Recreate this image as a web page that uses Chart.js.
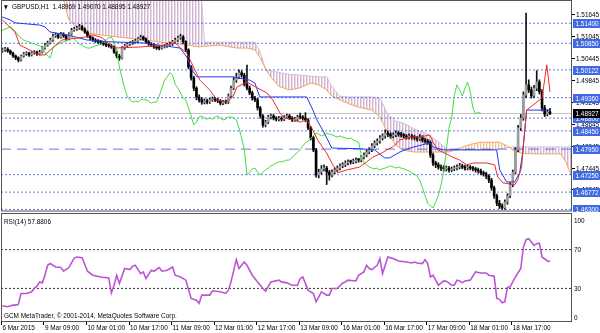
<!DOCTYPE html>
<html><head><meta charset="utf-8">
<script src="https://cdn.jsdelivr.net/npm/chart.js@4.4.1/dist/chart.umd.min.js"></script>
<style>
html,body{margin:0;padding:0;background:#fff;}
#wrap{position:relative;width:600px;height:333px;overflow:hidden;background:#fff;}
canvas{position:absolute;left:0;}
#main{top:0;}
#rsi{top:212px;}
</style></head><body>
<div id="wrap"><canvas id="main" width="600" height="212"></canvas><canvas id="rsi" width="600" height="121"></canvas></div>
<script>
// ---------------- DATA ----------------
const symbol = 'GBPUSD,H1';
const rsiName = 'RSI(14)';
const copyright = 'GCM MetaTrader, \u00A9 2001-2014, MetaQuotes Software Corp.';
const xTickBars = [0,16,32,48,64,80,96,112,128,144,160,176,192];
const xTickLabels = ['6 Mar 2015','9 Mar 09:00','10 Mar 01:00','10 Mar 17:00','11 Mar 09:00','12 Mar 01:00','12 Mar 17:00','13 Mar 09:00','16 Mar 01:00','16 Mar 17:00','17 Mar 09:00','18 Mar 01:00','18 Mar 17:00'];
const priceTicks = [1.51645,1.51045,1.50445,1.49845,1.49245,1.48645,1.48045,1.47445,1.46845];
const levels = [1.51400,1.50850,1.50122,1.49360,1.48800,1.48450,1.47950,1.47250,1.46772,1.46300];
const dashedLevels = [1.47950];
const rsiTicks = [100,70,30,0];
const rsiLevels = [70,30];

const opens = [
1.5064,1.5067,1.5069,1.5064,1.5058,1.5050,1.5045,1.5039,1.5050,1.5056,
1.5058,1.5053,1.5058,1.5061,1.5056,1.5061,1.5072,1.5080,1.5086,1.5094,
1.5105,1.5108,1.5102,1.5110,1.5105,1.5097,1.5110,1.5121,1.5124,1.5127,
1.5130,1.5124,1.5116,1.5105,1.5100,1.5094,1.5091,1.5089,1.5086,1.5083,
1.5080,1.5078,1.5075,1.5061,1.5050,1.5045,1.5072,1.5078,1.5083,1.5086,
1.5089,1.5091,1.5097,1.5102,1.5097,1.5089,1.5083,1.5080,1.5075,1.5072,
1.5072,1.5075,1.5078,1.5080,1.5083,1.5089,1.5094,1.5100,1.5102,1.5089,
1.5067,1.5020,1.4990,1.4962,1.4938,1.4930,1.4924,1.4927,1.4924,1.4930,
1.4932,1.4930,1.4927,1.4921,1.4924,1.4924,1.4941,1.4962,1.4984,1.4993,
1.5004,1.4998,1.4973,1.4962,1.4949,1.4935,1.4930,1.4908,1.4886,1.4861,
1.4869,1.4883,1.4886,1.4880,1.4877,1.4880,1.4877,1.4883,1.4886,1.4880,
1.4875,1.4877,1.4883,1.4883,1.4880,1.4875,1.4853,1.4826,1.4793,1.4724,
1.4732,1.4741,1.4743,1.4732,1.4724,1.4732,1.4738,1.4743,1.4749,1.4752,
1.4757,1.4760,1.4760,1.4762,1.4765,1.4765,1.4773,1.4779,1.4787,1.4793,
1.4804,1.4812,1.4817,1.4826,1.4831,1.4839,1.4836,1.4831,1.4834,1.4839,
1.4836,1.4834,1.4831,1.4828,1.4831,1.4828,1.4826,1.4823,1.4826,1.4820,
1.4817,1.4814,1.4779,1.4757,1.4752,1.4746,1.4743,1.4741,1.4743,1.4738,
1.4741,1.4743,1.4746,1.4749,1.4746,1.4743,1.4746,1.4743,1.4741,1.4738,
1.4735,1.4730,1.4727,1.4721,1.4710,1.4689,1.4667,1.4647,1.4639,1.4634,
1.4650,1.4667,1.4697,1.4732,1.4793,1.4853,1.4880,1.4943,1.4971,1.4957,
1.4941,1.4962,1.4979,1.4952,1.4908,1.4891,1.48969];
const highs = [
1.5072,1.5074,1.5073,1.5067,1.5061,1.5053,1.5048,1.5053,1.5060,1.5062,
1.5061,1.5062,1.5065,1.5064,1.5066,1.5076,1.5085,1.5091,1.5099,1.5110,
1.5113,1.5112,1.5115,1.5114,1.5108,1.5114,1.5126,1.5129,1.5132,1.5137,
1.5134,1.5127,1.5119,1.5108,1.5103,1.5098,1.5095,1.5093,1.5090,1.5087,
1.5084,1.5082,1.5078,1.5064,1.5055,1.5076,1.5082,1.5087,1.5090,1.5093,
1.5096,1.5101,1.5107,1.5105,1.5100,1.5092,1.5087,1.5084,1.5079,1.5077,
1.5079,1.5082,1.5085,1.5088,1.5093,1.5099,1.5105,1.5110,1.5106,1.5092,
1.5070,1.5024,1.4995,1.4966,1.4944,1.4936,1.4933,1.4932,1.4935,1.4938,
1.4937,1.4934,1.4931,1.4929,1.4930,1.4946,1.4968,1.4992,1.5003,1.5012,
1.5010,1.5003,1.5025,1.4968,1.4954,1.4940,1.4934,1.4912,1.4890,1.4874,
1.4888,1.4891,1.4890,1.4884,1.4885,1.4884,1.4887,1.4891,1.4890,1.4884,
1.4882,1.4888,1.4894,1.4887,1.4895,1.4879,1.4857,1.4830,1.4797,1.4740,
1.4750,1.4752,1.4748,1.4737,1.4738,1.4744,1.4749,1.4755,1.4758,1.4763,
1.4766,1.4765,1.4768,1.4771,1.4770,1.4778,1.4785,1.4793,1.4799,1.4810,
1.4818,1.4823,1.4832,1.4837,1.4848,1.4845,1.4840,1.4840,1.4845,1.4843,
1.4841,1.4838,1.4835,1.4837,1.4836,1.4833,1.4830,1.4835,1.4832,1.4825,
1.4822,1.4818,1.4784,1.4762,1.4758,1.4752,1.4750,1.4749,1.4748,1.4746,
1.4749,1.4752,1.4756,1.4754,1.4751,1.4752,1.4750,1.4748,1.4745,1.4743,
1.4740,1.4735,1.4732,1.4725,1.4715,1.4694,1.4672,1.4655,1.4645,1.4656,
1.4673,1.4703,1.4738,1.4799,1.4860,1.4890,1.4952,1.5168,1.4985,1.4965,
1.4970,1.5010,1.4985,1.4958,1.4915,1.4903,1.49070];
const lows = [
1.5060,1.5063,1.5060,1.5054,1.5046,1.5040,1.5034,1.5036,1.5047,1.5052,
1.5049,1.5050,1.5055,1.5052,1.5053,1.5058,1.5069,1.5077,1.5083,1.5090,
1.5101,1.5098,1.5099,1.5101,1.5093,1.5094,1.5107,1.5118,1.5120,1.5123,
1.5120,1.5112,1.5101,1.5095,1.5090,1.5087,1.5085,1.5082,1.5079,1.5076,
1.5074,1.5071,1.5057,1.5045,1.5038,1.5042,1.5068,1.5074,1.5079,1.5082,
1.5085,1.5088,1.5094,1.5093,1.5085,1.5079,1.5076,1.5071,1.5068,1.5067,
1.5069,1.5072,1.5074,1.5077,1.5079,1.5086,1.5090,1.5096,1.5085,1.5062,
1.5015,1.4984,1.4955,1.4930,1.4924,1.4918,1.4919,1.4919,1.4920,1.4926,
1.4925,1.4922,1.4916,1.4917,1.4919,1.4920,1.4937,1.4958,1.4978,1.4988,
1.4992,1.4968,1.4957,1.4944,1.4929,1.4925,1.4902,1.4880,1.4855,1.4856,
1.4865,1.4878,1.4875,1.4872,1.4872,1.4872,1.4873,1.4879,1.4876,1.4870,
1.4871,1.4873,1.4878,1.4875,1.4870,1.4848,1.4820,1.4788,1.4718,1.4716,
1.4726,1.4735,1.4698,1.4710,1.4719,1.4727,1.4733,1.4738,1.4744,1.4747,
1.4752,1.4754,1.4755,1.4757,1.4759,1.4760,1.4768,1.4774,1.4782,1.4788,
1.4799,1.4806,1.4811,1.4820,1.4825,1.4829,1.4825,1.4826,1.4829,1.4830,
1.4828,1.4826,1.4822,1.4823,1.4822,1.4820,1.4817,1.4818,1.4814,1.4811,
1.4808,1.4772,1.4750,1.4744,1.4740,1.4736,1.4734,1.4735,1.4732,1.4733,
1.4736,1.4738,1.4741,1.4741,1.4737,1.4738,1.4738,1.4735,1.4732,1.4729,
1.4724,1.4721,1.4714,1.4703,1.4682,1.4660,1.4640,1.4632,1.4630,1.4630,
1.4644,1.4662,1.4692,1.4727,1.4788,1.4846,1.4874,1.4936,1.4950,1.4935,
1.4936,1.4955,1.4946,1.4900,1.4884,1.4886,1.48895];
const closes = [
1.5067,1.5069,1.5064,1.5058,1.5050,1.5045,1.5039,1.5050,1.5056,1.5058,
1.5053,1.5058,1.5061,1.5056,1.5061,1.5072,1.5080,1.5086,1.5094,1.5105,
1.5108,1.5102,1.5110,1.5105,1.5097,1.5110,1.5121,1.5124,1.5127,1.5130,
1.5124,1.5116,1.5105,1.5100,1.5094,1.5091,1.5089,1.5086,1.5083,1.5080,
1.5078,1.5075,1.5061,1.5050,1.5045,1.5072,1.5078,1.5083,1.5086,1.5089,
1.5091,1.5097,1.5102,1.5097,1.5089,1.5083,1.5080,1.5075,1.5072,1.5072,
1.5075,1.5078,1.5080,1.5083,1.5089,1.5094,1.5100,1.5102,1.5089,1.5067,
1.5020,1.4990,1.4962,1.4938,1.4930,1.4924,1.4927,1.4924,1.4930,1.4932,
1.4930,1.4927,1.4921,1.4924,1.4924,1.4941,1.4962,1.4984,1.4993,1.5004,
1.4998,1.4973,1.4962,1.4949,1.4935,1.4930,1.4908,1.4886,1.4861,1.4869,
1.4883,1.4886,1.4880,1.4877,1.4880,1.4877,1.4883,1.4886,1.4880,1.4875,
1.4877,1.4883,1.4883,1.4880,1.4875,1.4853,1.4826,1.4793,1.4724,1.4732,
1.4741,1.4743,1.4732,1.4724,1.4732,1.4738,1.4743,1.4749,1.4752,1.4757,
1.4760,1.4760,1.4762,1.4765,1.4765,1.4773,1.4779,1.4787,1.4793,1.4804,
1.4812,1.4817,1.4826,1.4831,1.4839,1.4836,1.4831,1.4834,1.4839,1.4836,
1.4834,1.4831,1.4828,1.4831,1.4828,1.4826,1.4823,1.4826,1.4820,1.4817,
1.4814,1.4779,1.4757,1.4752,1.4746,1.4743,1.4741,1.4743,1.4738,1.4741,
1.4743,1.4746,1.4749,1.4746,1.4743,1.4746,1.4743,1.4741,1.4738,1.4735,
1.4730,1.4727,1.4721,1.4710,1.4689,1.4667,1.4647,1.4639,1.4634,1.4650,
1.4667,1.4697,1.4732,1.4793,1.4853,1.4880,1.4943,1.4971,1.4957,1.4941,
1.4962,1.4979,1.4952,1.4908,1.4891,1.48969,1.48927];

const tenkanBars = [-1,0,4.7,6.6,14,16,20,22.4,31,34,37,38.6,40.5,42.3,52,61,65,67,69.4,71.7,74.3,78,80.7,84.4,86.7,88.2,92,93.8,99.5,101.7,104.4,106.2,109.2,112,114.5,116.8,118.6,122,124.3,126.2,129.5,134.4,137,139.3,142.7,144.6,146.8,149.5,153.2,157,160.8,162,163.8,165.6,169.4,172,174.7,177,182,185.2,186.3,188.2,192.7,193.8,195.3,197.2,203,204.8,206];
const tenkanVals = [1.5152,1.5149,1.5116,1.5080,1.5053,1.5053,1.5080,1.5094,1.5102,1.5108,1.5102,1.5094,1.5080,1.5072,1.5075,1.5080,1.5086,1.5072,1.5058,1.5023,1.4984,1.4957,1.4930,1.4924,1.4938,1.4965,1.4979,1.4971,1.4949,1.4930,1.4894,1.4880,1.4875,1.4869,1.4875,1.4847,1.4820,1.4784,1.4752,1.4730,1.4738,1.4746,1.4760,1.4773,1.4784,1.4793,1.4801,1.4820,1.4828,1.4828,1.4834,1.4814,1.4793,1.4787,1.4773,1.4765,1.4752,1.4757,1.4757,1.4752,1.4719,1.4703,1.4697,1.4710,1.4746,1.4902,1.4935,1.5026,1.4952];
const kijunBars = [-1,0,2.9,4.7,14,16,17.9,24.3,31.8,40.5,52.9,64,66.8,69.4,71.3,73.2,86.7,93,95,96.8,114.5,116.8,118.3,120.5,122.4,123.9,134.4,140,143.8,145.7,149.5,153.2,160.8,162,165.6,185.9,187.1,189.7,192.7,194.6,195.7,197.2,206];
const kijunVals = [1.5160,1.5157,1.5149,1.5141,1.5135,1.5130,1.5116,1.5108,1.5094,1.5089,1.5086,1.5075,1.5072,1.5047,1.5012,1.4993,1.4993,1.4984,1.4976,1.4938,1.4938,1.4902,1.4875,1.4847,1.4820,1.4798,1.4796,1.4793,1.4771,1.4771,1.4787,1.4798,1.4812,1.4801,1.4793,1.4793,1.4738,1.4705,1.4705,1.4730,1.4785,1.4902,1.4902];
const kumoBars = [18,22,25,28,32,40,50,60,70,74,75,76,82,88,92,95,97,99,101,104,108,112,116,119,122,124,127,130,134,139,142,145,148,151,155,160,164,168,172,176,180,184,187,190,193,196,200,205,210,212,214];
const spanA = [1.5260,1.5231,1.5149,1.5127,1.5113,1.5105,1.5097,1.5088,1.5080,1.5075,1.5076,1.5077,1.5080,1.5072,1.5072,1.5067,1.5045,1.5015,1.4992,1.4967,1.4957,1.4963,1.4976,1.4971,1.4957,1.4940,1.4930,1.4920,1.4910,1.4902,1.4883,1.4840,1.4805,1.4792,1.4787,1.4787,1.4787,1.4787,1.4798,1.4808,1.4814,1.4814,1.4814,1.4803,1.4788,1.4783,1.4782,1.4782,1.4782,1.4760,1.4722];
const spanB = [1.5240,1.5240,1.5240,1.5240,1.5240,1.5240,1.5240,1.5240,1.5240,1.5240,1.5200,1.5088,1.5088,1.5088,1.5088,1.5088,1.5060,1.5012,1.5010,1.5005,1.5000,1.4998,1.4995,1.4993,1.4993,1.4965,1.4940,1.4938,1.4938,1.4938,1.4935,1.4890,1.4872,1.4866,1.4850,1.4836,1.4815,1.4790,1.4793,1.4793,1.4793,1.4793,1.4795,1.4800,1.4801,1.4801,1.4801,1.4801,1.4801,1.4801,1.4801];
const chikouShift = 26;

const rsiBars = [0,2,4,5,6,7,9,11,12,13,14,15,16,17,18,20,22,23,25,27,28,30,32,34,37,40,41,42,43,44,46,48,49,50,52,53,54,56,57,59,60,62,64,65,67,69,71,73,74,75,78,79,82,84,85,86,88,89,91,92,94,96,98,99,101,104,105,107,109,111,112,113,115,117,118,120,122,123,124,126,128,129,130,133,134,136,137,138,139,141,142,143,145,147,149,152,154,155,156,158,159,160,161,162,164,166,167,169,170,171,172,173,174,176,178,180,182,183,185,186,187,188,189,190,191,193,195,196,197,198,200,201,202,203,205,206];
const rsiVals = [12.1,11.1,12.8,12.8,13.5,24.8,24.8,26.5,30.0,32.3,36.7,35.7,43.6,53.8,55.6,52.1,51.5,47.7,51.5,61.3,62.4,61.7,47.7,43.6,41.8,40.8,25.4,33.3,43.6,35.1,50.5,49.4,52.8,53.8,45.3,47.0,40.2,48.7,47.7,51.5,47.7,48.7,52.1,43.6,41.8,38.5,19.7,17.9,14.6,23.1,23.1,27.5,26.5,24.8,28.2,36.7,59.7,50.5,57.2,53.8,43.6,36.7,29.9,27.2,36.7,38.5,36.7,35.7,33.3,33.3,40.0,41.8,28.2,24.8,16.2,26.5,23.1,23.1,29.9,29.9,35.7,36.7,38.5,37.7,43.6,47.0,53.8,50.5,49.4,53.8,60.7,45.3,62.4,60.7,58.3,57.2,56.2,57.2,56.2,55.6,59.7,55.6,41.8,43.6,33.3,37.7,37.4,33.3,33.3,38.5,37.7,35.7,37.7,38.5,47.0,45.9,45.9,43.6,42.6,19.7,18.7,15.2,16.2,31.0,31.6,41.8,50.5,72.6,80.2,81.2,74.4,76.1,76.7,62.4,58.3,57.8806];

// ---------------- RENDER ----------------
const X_MIN = -0.53, X_MAX = 213.9;
const SX = 0.8;
const FONT = '8px "Liberation Sans", Arial, sans-serif';
function drawText(ctx, s, x, y, color, font) {
  ctx.save();
  ctx.font = font || FONT; ctx.fillStyle = color; ctx.textBaseline = 'middle'; ctx.textAlign = 'left';
  ctx.translate(x, y); ctx.scale(SX, 1); ctx.fillText(s, 0, 0);
  ctx.restore();
}
function makeHatch(color, alpha2) {
  const c = document.createElement('canvas'); c.width = 3; c.height = 2;
  const g = c.getContext('2d'); g.fillStyle = color; g.fillRect(0, 0, 1, 2);
  g.globalAlpha = alpha2; g.fillRect(1, 0, 1, 2);
  return g.createPattern(c, 'repeat');
}
const hatchThistle = makeHatch('#D2B4D2', 0.45);
const hatchSandy = makeHatch('#F7BE8E', 0.35);

const n = closes.length;
const wickData = closes.map((c, i) => ({x: i, y: [lows[i], highs[i]]}));
const bodyData = closes.map((c, i) => ({x: i, y: [Math.min(opens[i], c), Math.max(opens[i], c)]}));
const bodyColors = closes.map((c, i) => c > opens[i] ? '#9c9c9c' : '#000000');
const pts = (xs, ys) => xs.map((x, i) => ({x, y: ys[i]}));
const lastClose = closes[n - 1];

const lineBase = {type: 'line', pointRadius: 0, borderWidth: 1, fill: false, tension: 0};
const mainDatasets = [
  Object.assign({}, lineBase, {data: pts(kumoBars, spanB), borderColor: '#D8BFD8', order: 20}),
  Object.assign({}, lineBase, {data: pts(kumoBars, spanA), borderColor: '#F4A460', order: 19,
    fill: {target: 0, above: hatchSandy, below: hatchThistle}}),
];
levels.forEach(L => mainDatasets.push(Object.assign({}, lineBase, {
  data: [{x: X_MIN, y: L}, {x: X_MAX, y: L}], borderColor: 'rgba(65,105,225,0.85)',
  borderDash: dashedLevels.includes(L) ? [10, 6] : [2, 2], order: 15})));
mainDatasets.push(Object.assign({}, lineBase, {data: [{x: X_MIN, y: lastClose}, {x: X_MAX, y: lastClose}], borderColor: '#c4c4c4', order: 14}));
mainDatasets.push({type: 'bar', data: wickData, backgroundColor: '#111', barThickness: 1, grouped: false, order: 6});
mainDatasets.push({type: 'bar', data: bodyData, backgroundColor: bodyColors, barThickness: 2, grouped: false, minBarLength: 1, order: 5});
mainDatasets.push(Object.assign({}, lineBase, {data: closes.map((c, i) => ({x: i - chikouShift, y: c})), borderColor: '#44DD44', order: 3}));
mainDatasets.push(Object.assign({}, lineBase, {data: pts(kijunBars, kijunVals), borderColor: '#2a36ee', order: 2}));
mainDatasets.push(Object.assign({}, lineBase, {data: pts(tenkanBars, tenkanVals), borderColor: '#f02a2a', order: 1}));

const whiteBg = {id: 'whiteBg', beforeDraw(chart) { const c = chart.ctx; c.save(); c.fillStyle = '#fff'; c.fillRect(0, 0, chart.width, chart.height); c.restore(); }};

const mainDeco = {
  id: 'mainDeco',
  afterDraw(chart) {
    const ctx = chart.ctx, a = chart.chartArea, y = chart.scales.y;
    ctx.save();
    ctx.strokeStyle = '#555'; ctx.lineWidth = 1;
    ctx.strokeRect(a.left + 0.5, a.top - 0.5, a.right - a.left, a.bottom - a.top + 1.5);
    priceTicks.forEach(v => {
      const py = Math.round(y.getPixelForValue(v)) + 0.5;
      ctx.beginPath(); ctx.moveTo(a.right + 1, py); ctx.lineTo(a.right + 4, py); ctx.strokeStyle = '#000'; ctx.stroke();
      drawText(ctx, v.toFixed(5), a.right + 5, py, '#000');
    });
    levels.forEach(v => {
      const py = y.getPixelForValue(v);
      ctx.fillStyle = '#4169E1'; ctx.fillRect(a.right + 2, Math.round(py) - 4, 27, 9);
      drawText(ctx, v.toFixed(5), a.right + 4.5, Math.round(py) + 0.5, '#fff');
    });
    const pb = Math.round(y.getPixelForValue(lastClose));
    ctx.fillStyle = '#000'; ctx.fillRect(a.right + 2, pb - 4, 27, 9);
    drawText(ctx, lastClose.toFixed(5), a.right + 4.5, pb + 0.5, '#fff');
    drawText(ctx, '\u25BC', 4, 7, '#000', '6px "DejaVu Sans", sans-serif');
    const title = symbol + '  ' + [opens[n-1], highs[n-1], lows[n-1], closes[n-1]].map(v => v.toFixed(5)).join(' ');
    drawText(ctx, title, 12, 7, '#000');
    ctx.restore();
  }
};

new Chart(document.getElementById('main'), {
  type: 'bar',
  data: {datasets: mainDatasets},
  options: {
    responsive: false, animation: false, devicePixelRatio: 1, events: [],
    layout: {padding: {left: 1, right: 29, top: 1, bottom: 2}},
    plugins: {legend: {display: false}, tooltip: {enabled: false}},
    scales: {
      x: {type: 'linear', min: X_MIN, max: X_MAX, display: false, offset: false},
      y: {type: 'linear', min: 1.46282, max: 1.52009, display: false}
    }
  },
  plugins: [whiteBg, mainDeco]
});

const rsiDatasets = [];
rsiLevels.forEach(L => rsiDatasets.push(Object.assign({}, lineBase, {data: [{x: X_MIN, y: L}, {x: X_MAX, y: L}], borderColor: '#333', borderDash: [2, 2], order: 5})));
rsiDatasets.push(Object.assign({}, lineBase, {data: pts(rsiBars, rsiVals), borderColor: '#BA55D3', borderWidth: 1.6, order: 1}));

const rsiDeco = {
  id: 'rsiDeco',
  afterDraw(chart) {
    const ctx = chart.ctx, a = chart.chartArea, y = chart.scales.y, x = chart.scales.x;
    ctx.save();
    ctx.strokeStyle = '#555'; ctx.lineWidth = 1;
    ctx.strokeRect(a.left + 0.5, a.top - 0.5, a.right - a.left, a.bottom - a.top + 1);
    rsiTicks.forEach(v => drawText(ctx, String(v), a.right + 3, y.getPixelForValue(v), '#000'));
    drawText(ctx, rsiName + ' ' + rsiVals[rsiVals.length - 1].toFixed(4), 4, 10, '#000');
    drawText(ctx, copyright, 4, 104, '#000');
    ctx.strokeStyle = '#000';
    xTickBars.forEach((b, i) => {
      const px = x.getPixelForValue(b);
      const tx = Math.round(px - 1.5) + 0.5;
      ctx.beginPath(); ctx.moveTo(tx, a.bottom + 1); ctx.lineTo(tx, a.bottom + 4); ctx.stroke();
      drawText(ctx, xTickLabels[i], px, a.bottom + 6.5, '#000');
    });
    ctx.restore();
  }
};

new Chart(document.getElementById('rsi'), {
  type: 'line',
  data: {datasets: rsiDatasets},
  options: {
    responsive: false, animation: false, devicePixelRatio: 1, events: [],
    layout: {padding: {left: 1, right: 29, top: 2, bottom: 12}},
    plugins: {legend: {display: false}, tooltip: {enabled: false}},
    scales: {
      x: {type: 'linear', min: X_MIN, max: X_MAX, display: false},
      y: {type: 'linear', min: -3.6, max: 106.7, display: false}
    }
  },
  plugins: [whiteBg, rsiDeco]
});
</script>
</body></html>
